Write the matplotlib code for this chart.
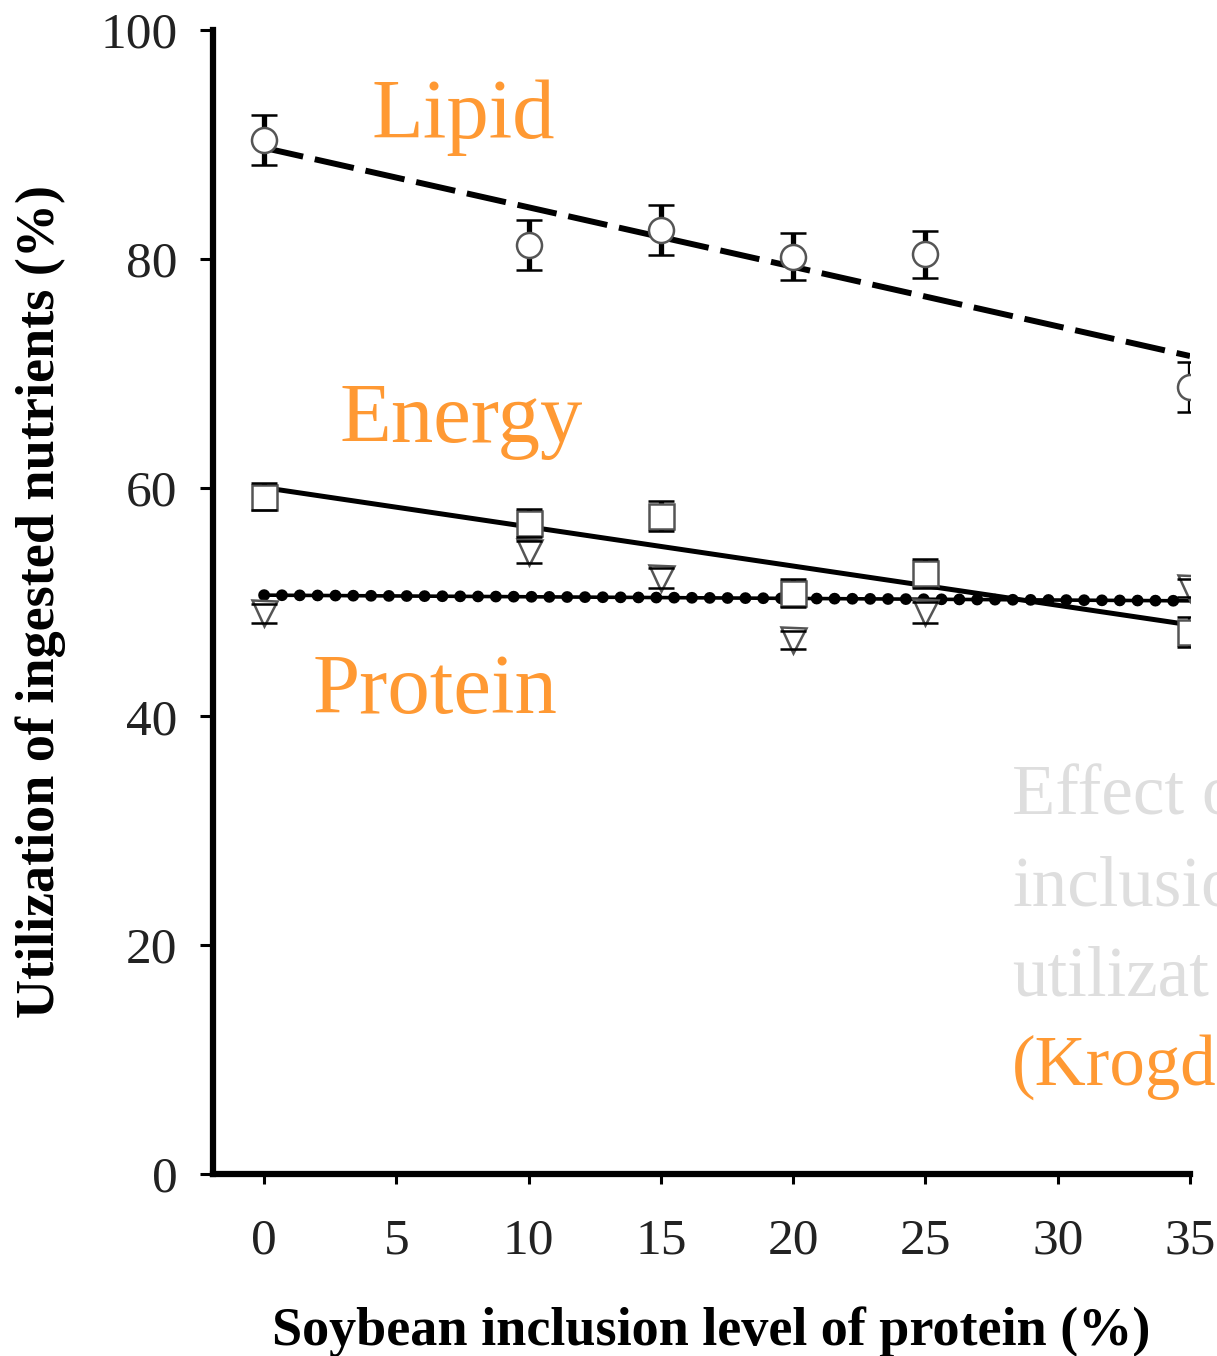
import matplotlib
matplotlib.use("Agg")
import matplotlib.pyplot as plt

# Soybean inclusion levels (% of protein)
inclusion = [0, 10, 15, 20, 25, 35]

# Utilization of ingested nutrients (%), means and error bars
lipid = [90.4, 81.2, 82.5, 80.2, 80.4, 68.8]
lipid_err = [2.2, 2.2, 2.2, 2.05, 2.05, 2.2]
energy = [59.2, 56.9, 57.5, 50.8, 52.5, 47.4]
energy_err = [1.2, 1.2, 1.3, 1.2, 1.3, 1.3]
protein = [49.0, 54.4, 52.1, 46.7, 49.1, 51.2]
protein_err = [0.85, 0.95, 0.9, 0.8, 0.9, 0.8]

# Regression lines (end points)
fit_x = [0, 35]
lipid_fit = [89.7, 71.5]
energy_fit = [60.0, 48.0]
protein_fit = [50.6, 50.1]

x_ticks = [0, 5, 10, 15, 20, 25, 30, 35]
y_ticks = [0, 20, 40, 60, 80, 100]

ORANGE = "#FF9933"
GREY = "#DEDEDE"
SERIF = "Liberation Serif"

W, H = 1217, 1356
fig = plt.figure(figsize=(W / 100, H / 100), dpi=100)
ax = fig.add_axes([213 / W, 1 - 1174 / H, (1190 - 213) / W, (1174 - 30) / H])

# regression lines
ax.plot(fit_x, lipid_fit, color="black", lw=4.3, linestyle=(0, (6.7, 2.0)),
        dash_capstyle="butt", zorder=1.5)
ax.plot(fit_x, energy_fit, color="black", lw=3.6, solid_capstyle="butt", zorder=1.5)
ax.plot(fit_x, protein_fit, color="black", lw=2.6, zorder=1.4)
ax.plot(fit_x, protein_fit, color="black", lw=8.5, linestyle=(0, (0.01, 1.5)),
        dash_capstyle="round", zorder=1.5)

# data points with error bars
series = [
    (lipid, lipid_err, "o"),
    (energy, energy_err, "s"),
    (protein, protein_err, "v"),
]
for vals, errs, mk in series:
    cont = ax.errorbar(inclusion, vals, yerr=errs, fmt=mk, ms=18, mfc="white",
                       mec="#555555", mew=1.8, ecolor="black", elinewidth=3.8,
                       capsize=9.4, capthick=5.0, zorder=2)
    for cap in cont[1]:
        cap.set_zorder(4)

ax.set_xlim(-1.93, 35)
ax.set_ylim(0, 100)
ax.set_xticks(x_ticks)
ax.set_yticks(y_ticks)
ax.set_xticklabels([str(t) for t in x_ticks], fontfamily=SERIF, fontsize=37, color="#222222")
ax.set_yticklabels([str(t) for t in y_ticks], fontfamily=SERIF, fontsize=37, color="#222222")
ax.tick_params(axis="x", direction="out", length=7, width=2.2, pad=24.5)
ax.tick_params(axis="y", direction="out", length=9.4, width=2.2, pad=16)

for side in ("top", "right"):
    ax.spines[side].set_visible(False)
for side in ("left", "bottom"):
    ax.spines[side].set_linewidth(4.5)

# axis titles
fig.text(41 / W, 1 - 602 / H, "Utilization of ingested nutrients (%)", rotation=90,
         ha="center", va="center", fontfamily=SERIF, fontweight="bold", fontsize=39)
fig.text(711 / W, 1 - 1345 / H, "Soybean inclusion level of protein (%)",
         ha="center", va="baseline", fontfamily=SERIF, fontweight="bold", fontsize=39)

# series names
for label, px, py in [("Lipid", 372, 138), ("Energy", 340, 442), ("Protein", 313, 713)]:
    fig.text(px / W, 1 - py / H, label, ha="left", va="baseline",
             fontfamily=SERIF, fontsize=61, color=ORANGE)

# caption fragment at the right edge
caption = [
    ("Effect o", GREY, 815),
    ("inclusio", GREY, 905),
    ("utilizat", GREY, 995),
    ("(Krogd", ORANGE, 1085),
]
for txt, col, py in caption:
    fig.text(1012 / W, 1 - py / H, txt, ha="left", va="baseline",
             fontfamily=SERIF, fontsize=51, color=col)

fig.savefig("out.png", dpi=100, facecolor="white")
